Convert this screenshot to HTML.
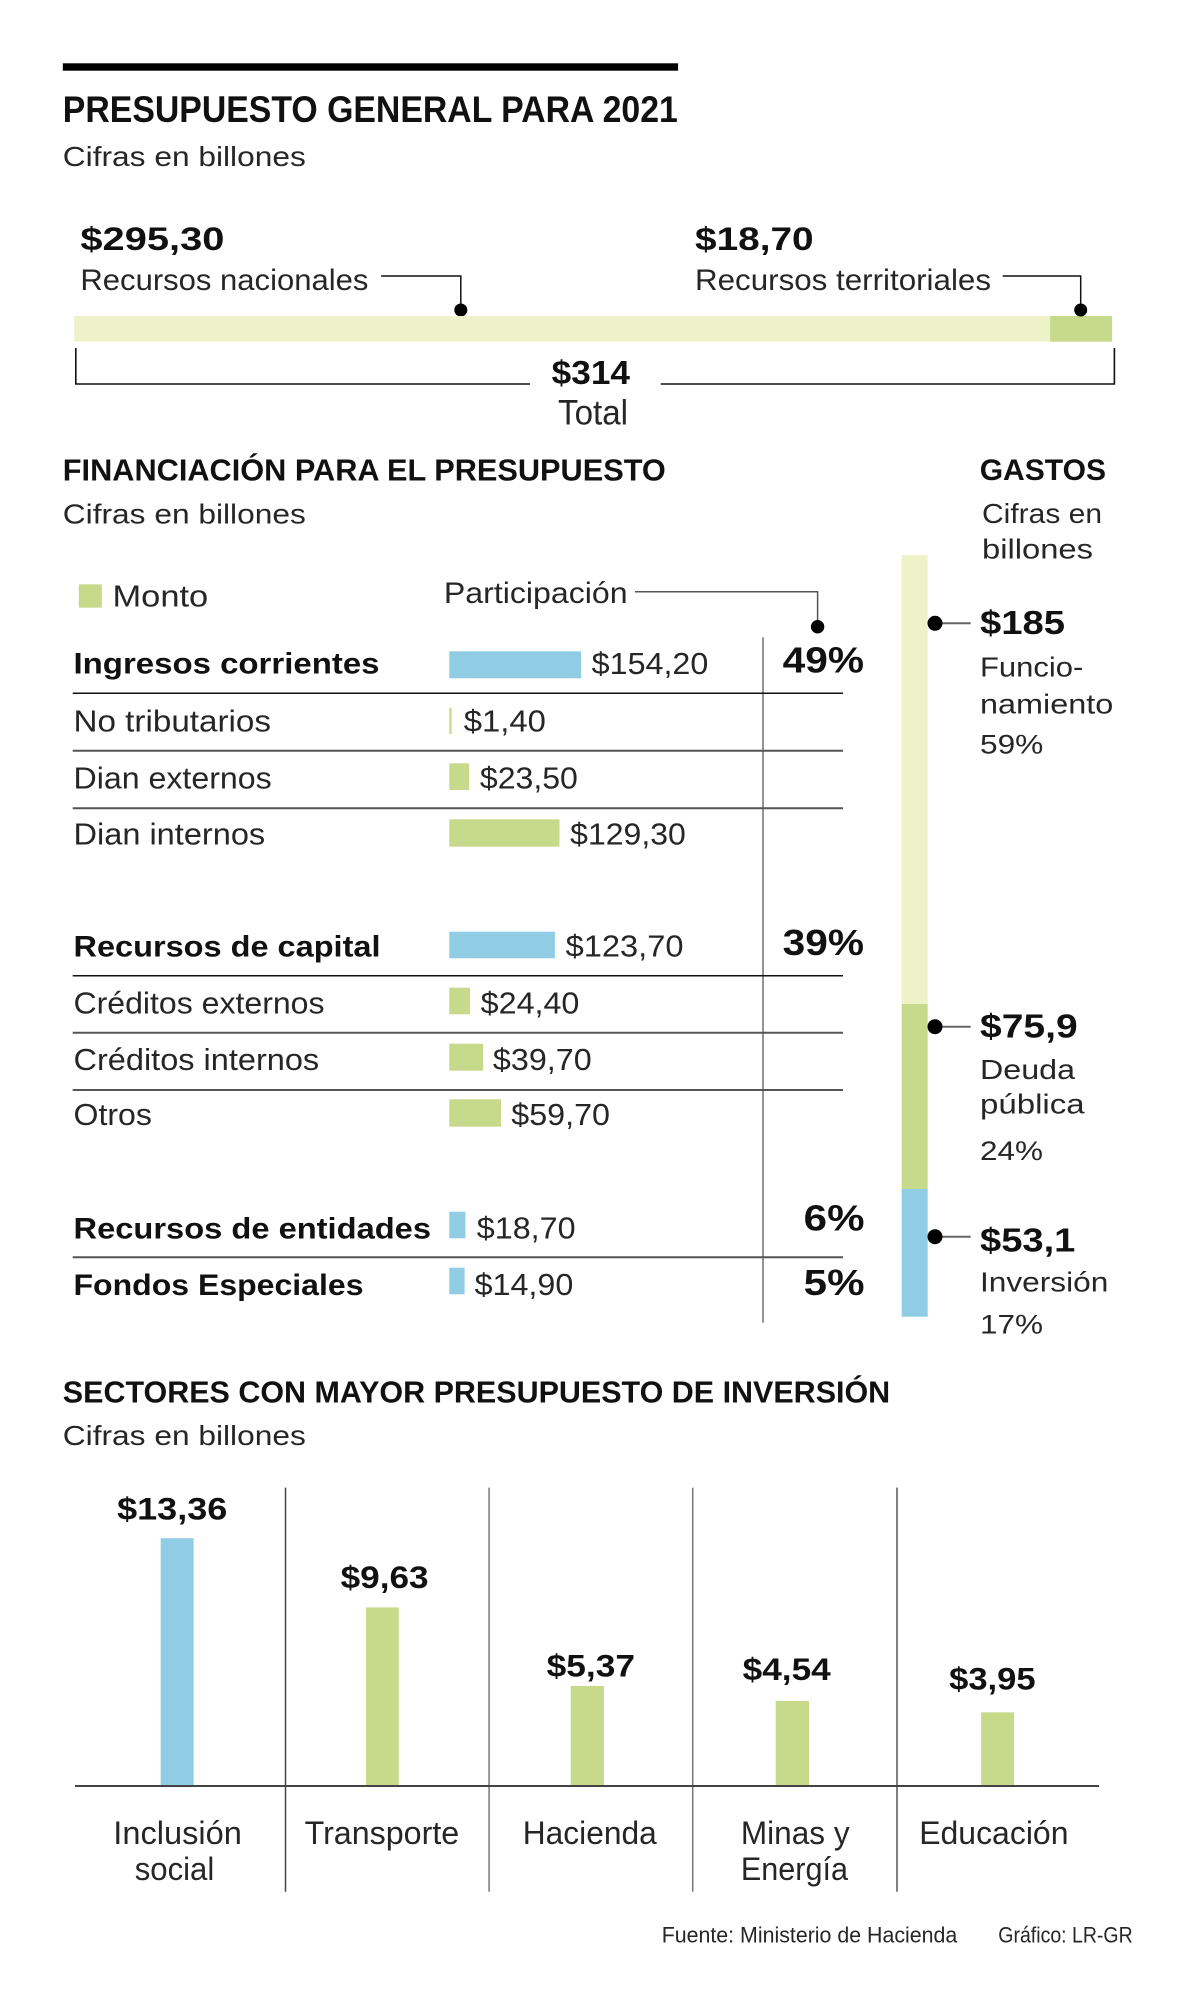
<!DOCTYPE html>
<html><head><meta charset="utf-8"><style>
html,body{margin:0;padding:0;background:#fff;}
svg{display:block;}
text{font-family:"Liberation Sans",sans-serif;}
.b{font-weight:bold;fill:#111;}
.r{fill:#262626;}
</style></head><body>
<svg width="1200" height="2009" viewBox="0 0 1200 2009" xmlns="http://www.w3.org/2000/svg">
<rect x="0" y="0" width="1200" height="2009" fill="#fff"/>
<!-- Top -->
<rect x="62.8" y="63.3" width="615.3" height="7.4" fill="#000"/>
<text class="b" x="62.8" y="122" font-size="37" textLength="615" lengthAdjust="spacingAndGlyphs">PRESUPUESTO GENERAL PARA 2021</text>
<text class="r" x="62.8" y="166" font-size="28" textLength="243" lengthAdjust="spacingAndGlyphs">Cifras en billones</text>

<text class="b" x="80.4" y="250" font-size="32" textLength="144" lengthAdjust="spacingAndGlyphs">$295,30</text>
<text class="r" x="80.4" y="290" font-size="30" textLength="288" lengthAdjust="spacingAndGlyphs">Recursos nacionales</text>
<polyline points="381.2,276 460.8,276 460.8,310" fill="none" stroke="#111" stroke-width="1.5"/>
<circle cx="460.8" cy="310" r="6.5" fill="#000"/>

<text class="b" x="695" y="250" font-size="32" textLength="118.6" lengthAdjust="spacingAndGlyphs">$18,70</text>
<text class="r" x="695" y="290" font-size="30" textLength="296" lengthAdjust="spacingAndGlyphs">Recursos territoriales</text>
<polyline points="1002.7,276 1080.7,276 1080.7,310" fill="none" stroke="#111" stroke-width="1.5"/>

<rect x="74.2" y="316" width="975.9" height="25.7" fill="#eef2c9"/>
<rect x="1050.1" y="316" width="62" height="25.7" fill="#c7da8b"/>
<circle cx="1080.7" cy="310" r="6.5" fill="#000"/>

<polyline points="75.8,348 75.8,384 530,384" fill="none" stroke="#111" stroke-width="1.6"/>
<polyline points="660.7,384 1114.4,384 1114.4,348" fill="none" stroke="#111" stroke-width="1.6"/>
<text class="b" x="551.7" y="384" font-size="33" textLength="78.3" lengthAdjust="spacingAndGlyphs">$314</text>
<text class="r" x="558" y="424.3" font-size="35" textLength="70" lengthAdjust="spacingAndGlyphs">Total</text>

<!-- Financiacion -->
<text class="b" x="62.8" y="480.7" font-size="31" textLength="603" lengthAdjust="spacingAndGlyphs">FINANCIACIÓN PARA EL PRESUPUESTO</text>
<text class="r" x="62.8" y="523.3" font-size="28" textLength="243" lengthAdjust="spacingAndGlyphs">Cifras en billones</text>

<rect x="78.8" y="584.3" width="23" height="23.4" fill="#c7da8b"/>
<text class="r" x="112.5" y="606.7" font-size="31" textLength="95.7" lengthAdjust="spacingAndGlyphs">Monto</text>
<text class="r" x="443.9" y="603" font-size="30" textLength="183.7" lengthAdjust="spacingAndGlyphs">Participación</text>
<polyline points="635,591.7 817.6,591.7 817.6,626.7" fill="none" stroke="#555" stroke-width="1.5"/>
<circle cx="817.6" cy="626.7" r="6.7" fill="#000"/>

<line x1="763" y1="637.3" x2="763" y2="1322.7" stroke="#666" stroke-width="1.4"/>

<!-- row lines -->
<line x1="72.7" y1="693.3" x2="843" y2="693.3" stroke="#111" stroke-width="1.5"/>
<line x1="72.7" y1="750.8" x2="843" y2="750.8" stroke="#555" stroke-width="2"/>
<line x1="72.7" y1="808.3" x2="843" y2="808.3" stroke="#555" stroke-width="2"/>
<line x1="72.7" y1="975.7" x2="843" y2="975.7" stroke="#111" stroke-width="1.5"/>
<line x1="72.7" y1="1032.7" x2="843" y2="1032.7" stroke="#555" stroke-width="2"/>
<line x1="72.7" y1="1090" x2="843" y2="1090" stroke="#555" stroke-width="2"/>
<line x1="72.7" y1="1257.3" x2="843" y2="1257.3" stroke="#555" stroke-width="2"/>

<!-- Ingresos corrientes -->
<text class="b" x="73.5" y="673.3" font-size="30" textLength="306" lengthAdjust="spacingAndGlyphs">Ingresos corrientes</text>
<rect x="449.3" y="651.3" width="131.7" height="27" fill="#90cde4"/>
<text class="r" x="591.7" y="674" font-size="31" textLength="116.6" lengthAdjust="spacingAndGlyphs">$154,20</text>
<text class="b" x="782.7" y="672.7" font-size="36" textLength="81.3" lengthAdjust="spacingAndGlyphs">49%</text>

<text class="r" x="73.5" y="731.7" font-size="31" textLength="197.5" lengthAdjust="spacingAndGlyphs">No tributarios</text>
<rect x="449.3" y="707.7" width="2.3" height="26.3" fill="#c7da8b"/>
<text class="r" x="463.8" y="731.7" font-size="31" textLength="82" lengthAdjust="spacingAndGlyphs">$1,40</text>

<text class="r" x="73.5" y="788.3" font-size="31" textLength="198.2" lengthAdjust="spacingAndGlyphs">Dian externos</text>
<rect x="449.3" y="763.3" width="19.9" height="26.7" fill="#c7da8b"/>
<text class="r" x="479.9" y="788.3" font-size="31" textLength="98" lengthAdjust="spacingAndGlyphs">$23,50</text>

<text class="r" x="73.5" y="844.3" font-size="31" textLength="191.7" lengthAdjust="spacingAndGlyphs">Dian internos</text>
<rect x="449.3" y="819.3" width="110.2" height="27.4" fill="#c7da8b"/>
<text class="r" x="570.2" y="844.3" font-size="31" textLength="115.6" lengthAdjust="spacingAndGlyphs">$129,30</text>

<!-- Recursos de capital -->
<text class="b" x="73.5" y="956.7" font-size="30" textLength="307" lengthAdjust="spacingAndGlyphs">Recursos de capital</text>
<rect x="449.3" y="931.7" width="105.6" height="26.6" fill="#90cde4"/>
<text class="r" x="565.6" y="956.7" font-size="31" textLength="117.9" lengthAdjust="spacingAndGlyphs">$123,70</text>
<text class="b" x="782.7" y="955" font-size="36" textLength="81.3" lengthAdjust="spacingAndGlyphs">39%</text>

<text class="r" x="73.5" y="1013.3" font-size="31" textLength="251" lengthAdjust="spacingAndGlyphs">Créditos externos</text>
<rect x="449.3" y="987.7" width="20.7" height="26.6" fill="#c7da8b"/>
<text class="r" x="480.7" y="1013.3" font-size="31" textLength="98.7" lengthAdjust="spacingAndGlyphs">$24,40</text>

<text class="r" x="73.5" y="1070" font-size="31" textLength="245.7" lengthAdjust="spacingAndGlyphs">Créditos internos</text>
<rect x="449.3" y="1043.7" width="33.7" height="27" fill="#c7da8b"/>
<text class="r" x="492.9" y="1070" font-size="31" textLength="98.8" lengthAdjust="spacingAndGlyphs">$39,70</text>

<text class="r" x="73.5" y="1125" font-size="31" textLength="78.4" lengthAdjust="spacingAndGlyphs">Otros</text>
<rect x="449.3" y="1099.3" width="51.7" height="27.4" fill="#c7da8b"/>
<text class="r" x="511.3" y="1125" font-size="31" textLength="98.7" lengthAdjust="spacingAndGlyphs">$59,70</text>

<text class="b" x="73.5" y="1238.3" font-size="30" textLength="357.5" lengthAdjust="spacingAndGlyphs">Recursos de entidades</text>
<rect x="449.3" y="1211.7" width="16.1" height="26.6" fill="#90cde4"/>
<text class="r" x="476.8" y="1238.3" font-size="31" textLength="98.8" lengthAdjust="spacingAndGlyphs">$18,70</text>
<text class="b" x="803.7" y="1230.7" font-size="36" textLength="60.8" lengthAdjust="spacingAndGlyphs">6%</text>

<text class="b" x="73.5" y="1295" font-size="30" textLength="290" lengthAdjust="spacingAndGlyphs">Fondos Especiales</text>
<rect x="449.3" y="1267.7" width="15.3" height="26.6" fill="#90cde4"/>
<text class="r" x="474.6" y="1295" font-size="31" textLength="98.7" lengthAdjust="spacingAndGlyphs">$14,90</text>
<text class="b" x="803.7" y="1295" font-size="36" textLength="60.8" lengthAdjust="spacingAndGlyphs">5%</text>

<!-- Gastos -->
<text class="b" x="979.7" y="480" font-size="30" textLength="126.3" lengthAdjust="spacingAndGlyphs">GASTOS</text>
<text class="r" x="982" y="523" font-size="28" textLength="120" lengthAdjust="spacingAndGlyphs">Cifras en</text>
<text class="r" x="982" y="558.3" font-size="28" textLength="111" lengthAdjust="spacingAndGlyphs">billones</text>

<rect x="901.7" y="555" width="26" height="449" fill="#eef2c9"/>
<rect x="901.7" y="1004" width="26" height="185" fill="#c7da8b"/>
<rect x="901.7" y="1189" width="26" height="127.7" fill="#90cde4"/>

<line x1="935" y1="623.3" x2="970.7" y2="623.3" stroke="#666" stroke-width="2"/>
<circle cx="935" cy="623.3" r="7.5" fill="#000"/>
<text class="b" x="980" y="634" font-size="33" textLength="85" lengthAdjust="spacingAndGlyphs">$185</text>
<text class="r" x="980" y="676.7" font-size="28" textLength="103.3" lengthAdjust="spacingAndGlyphs">Funcio-</text>
<text class="r" x="980" y="713.3" font-size="28" textLength="133.3" lengthAdjust="spacingAndGlyphs">namiento</text>
<text class="r" x="980" y="753.3" font-size="27" textLength="63.3" lengthAdjust="spacingAndGlyphs">59%</text>

<line x1="935" y1="1026.7" x2="970.7" y2="1026.7" stroke="#666" stroke-width="2"/>
<circle cx="935" cy="1026.7" r="7.5" fill="#000"/>
<text class="b" x="980" y="1037.3" font-size="33" textLength="97.7" lengthAdjust="spacingAndGlyphs">$75,9</text>
<text class="r" x="980" y="1079" font-size="28" textLength="95" lengthAdjust="spacingAndGlyphs">Deuda</text>
<text class="r" x="980" y="1113.3" font-size="28" textLength="104.6" lengthAdjust="spacingAndGlyphs">pública</text>
<text class="r" x="980" y="1160" font-size="27" textLength="63" lengthAdjust="spacingAndGlyphs">24%</text>

<line x1="935" y1="1236.7" x2="970.7" y2="1236.7" stroke="#666" stroke-width="2"/>
<circle cx="935" cy="1236.7" r="7.5" fill="#000"/>
<text class="b" x="980" y="1251.7" font-size="33" textLength="95.4" lengthAdjust="spacingAndGlyphs">$53,1</text>
<text class="r" x="980" y="1291.7" font-size="28" textLength="128.3" lengthAdjust="spacingAndGlyphs">Inversión</text>
<text class="r" x="980" y="1333.3" font-size="27" textLength="63" lengthAdjust="spacingAndGlyphs">17%</text>

<!-- Sectores -->
<text class="b" x="62.8" y="1402.3" font-size="31" textLength="827.4" lengthAdjust="spacingAndGlyphs">SECTORES CON MAYOR PRESUPUESTO DE INVERSIÓN</text>
<text class="r" x="62.8" y="1445" font-size="28" textLength="243" lengthAdjust="spacingAndGlyphs">Cifras en billones</text>

<line x1="285.5" y1="1487.6" x2="285.5" y2="1891.7" stroke="#444" stroke-width="1.5"/>
<line x1="489.1" y1="1487.6" x2="489.1" y2="1891.7" stroke="#777" stroke-width="1.5"/>
<line x1="692.7" y1="1487.6" x2="692.7" y2="1891.7" stroke="#777" stroke-width="1.5"/>
<line x1="897" y1="1487.6" x2="897" y2="1891.7" stroke="#555" stroke-width="1.5"/>

<rect x="160.7" y="1538.2" width="32.9" height="247.8" fill="#90cde4"/>
<rect x="365.9" y="1607.4" width="32.9" height="178.6" fill="#c7da8b"/>
<rect x="570.7" y="1686" width="33.3" height="100" fill="#c7da8b"/>
<rect x="775.7" y="1701" width="33.3" height="85" fill="#c7da8b"/>
<rect x="981.2" y="1712.3" width="32.9" height="73.7" fill="#c7da8b"/>

<line x1="75" y1="1786" x2="1099.1" y2="1786" stroke="#444" stroke-width="2"/>

<text class="b" x="117.1" y="1519.6" font-size="31.5" textLength="110.2" lengthAdjust="spacingAndGlyphs">$13,36</text>
<text class="b" x="340.6" y="1587.9" font-size="31.5" textLength="88" lengthAdjust="spacingAndGlyphs">$9,63</text>
<text class="b" x="546.7" y="1676.7" font-size="31.5" textLength="88.3" lengthAdjust="spacingAndGlyphs">$5,37</text>
<text class="b" x="742.7" y="1680" font-size="31.5" textLength="88" lengthAdjust="spacingAndGlyphs">$4,54</text>
<text class="b" x="949.1" y="1689.5" font-size="31.5" textLength="86.5" lengthAdjust="spacingAndGlyphs">$3,95</text>

<text class="r" x="113.3" y="1844" font-size="32" textLength="128.6" lengthAdjust="spacingAndGlyphs">Inclusión</text>
<text class="r" x="134.7" y="1880.1" font-size="32" textLength="79.6" lengthAdjust="spacingAndGlyphs">social</text>
<text class="r" x="304.6" y="1844" font-size="32" textLength="154.6" lengthAdjust="spacingAndGlyphs">Transporte</text>
<text class="r" x="522.8" y="1844" font-size="32" textLength="133.9" lengthAdjust="spacingAndGlyphs">Hacienda</text>
<text class="r" x="740.9" y="1844" font-size="32" textLength="108.7" lengthAdjust="spacingAndGlyphs">Minas y</text>
<text class="r" x="740.9" y="1880.1" font-size="32" textLength="107.1" lengthAdjust="spacingAndGlyphs">Energía</text>
<text class="r" x="919.2" y="1844" font-size="32" textLength="149.3" lengthAdjust="spacingAndGlyphs">Educación</text>

<text class="r" x="661.7" y="1942.7" font-size="22" textLength="295.6" lengthAdjust="spacingAndGlyphs">Fuente: Ministerio de Hacienda</text>
<text class="r" x="998.3" y="1942.7" font-size="22" textLength="134.4" lengthAdjust="spacingAndGlyphs">Gráfico: LR-GR</text>
</svg>
</body></html>
